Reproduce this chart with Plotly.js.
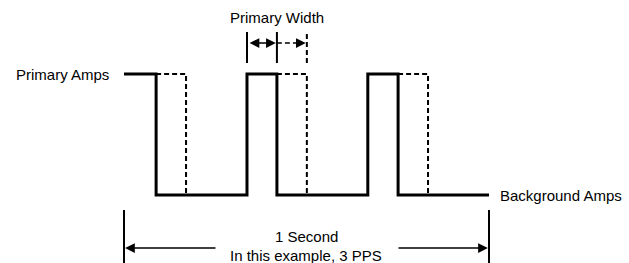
<!DOCTYPE html>
<html>
<head>
<meta charset="utf-8">
<script src="https://cdn.plot.ly/plotly-3.0.1.min.js"></script>
<style>html,body{margin:0;padding:0;background:#fff;}#chart{width:629px;height:263px;}</style>
</head>
<body>
<div id="chart"></div>
<script>
// Waveform timing (seconds within the 1-second window)
const pulseRise  = [0.000, 0.337, 0.668];
const pulseFall  = [0.088, 0.419, 0.751];
const widerFall  = [0.170, 0.501, 0.833];
const windowEnd  = 1.0;
// Amplitude levels
const ampLevels  = [1, 0];
const levelLabels = ['Primary Amps', 'Background Amps'];
const spanLabels = ['1 Second', 'In this example, 3 PPS'];
const widthLabel = 'Primary Width';

const HI = ampLevels[0], LO = ampLevels[1];

// solid waveform
const sx = [], sy = [];
for (let i = 0; i < pulseRise.length; i++) {
  sx.push(pulseRise[i]); sy.push(i === 0 ? HI : LO);
  if (i > 0) { sx.push(pulseRise[i]); sy.push(HI); }
  sx.push(pulseFall[i]); sy.push(HI);
  sx.push(pulseFall[i]); sy.push(LO);
}
sx.push(windowEnd); sy.push(LO);

// dashed wider pulses
const dx = [], dy = [];
for (let i = 0; i < pulseFall.length; i++) {
  dx.push(pulseFall[i], widerFall[i], widerFall[i], null);
  dy.push(HI, HI, LO, null);
}

const k = 1; // pulse used for the width marker
const wTop = 1.347, wBot = 1.091, wArrowY = 1.256, wTextY = 1.471;
const bTop = -0.124, bBot = -0.62, bArrowY = -0.438;

const traces = [
  {x: sx, y: sy, mode: 'lines', line: {color: '#000', width: 3}, hoverinfo: 'skip'},
  {x: dx, y: dy, mode: 'lines', line: {color: '#000', width: 2, dash: '5px,3px'}, hoverinfo: 'skip'},
  // width marker verticals
  {x: [pulseRise[k], pulseRise[k], null, pulseFall[k], pulseFall[k]], y: [wBot, wTop, null, wBot, wTop],
   mode: 'lines', line: {color: '#000', width: 2}, hoverinfo: 'skip'},
  {x: [widerFall[k], widerFall[k]], y: [wBot, wTop], mode: 'lines',
   line: {color: '#000', width: 2, dash: '5px,3px'}, hoverinfo: 'skip'},
  {x: [pulseFall[k], widerFall[k] - 0.02], y: [wArrowY, wArrowY], mode: 'lines',
   line: {color: '#000', width: 1.5, dash: '5px,3px'}, hoverinfo: 'skip'},
  // 1-second bracket verticals
  {x: [0, 0, null, windowEnd, windowEnd], y: [bTop, bBot, null, bTop, bBot],
   mode: 'lines', line: {color: '#000', width: 2}, hoverinfo: 'skip'}
];

const font = {family: 'Liberation Sans, Arial, sans-serif', size: 15, color: '#000'};
const arr = {showarrow: true, arrowcolor: '#000', arrowwidth: 1.5, arrowsize: 1.3, arrowhead: 2,
  axref: 'x', ayref: 'y', text: '', standoff: 0, startstandoff: 0};

const annotations = [
  Object.assign({}, arr, {x: pulseFall[k] - 0.003, y: wArrowY, ax: pulseRise[k] + 0.003, ay: wArrowY, arrowside: 'end+start'}),
  Object.assign({}, arr, {x: widerFall[k] - 0.003, y: wArrowY, ax: widerFall[k] - 0.03, ay: wArrowY}),
  Object.assign({}, arr, {x: 0.003, y: bArrowY, ax: 0.2548, ay: bArrowY}),
  Object.assign({}, arr, {x: windowEnd - 0.003, y: bArrowY, ax: 0.748, ay: bArrowY}),
  {x: pulseFall[k], y: wTextY, text: widthLabel, showarrow: false, font: font, xanchor: 'center', yanchor: 'middle'},
  {x: 0, y: HI, text: levelLabels[0], showarrow: false, font: font, xanchor: 'right', yanchor: 'middle', xshift: -13},
  {x: windowEnd, y: LO, text: levelLabels[1], showarrow: false, font: font, xanchor: 'left', yanchor: 'middle', xshift: 9},
  {x: 0.5, y: -0.347, text: spanLabels[0], showarrow: false, font: font, xanchor: 'center', yanchor: 'middle'},
  {x: 0.5, y: -0.496, text: spanLabels[1], showarrow: false, font: font, xanchor: 'center', yanchor: 'middle'}
];

const layout = {
  width: 629, height: 263,
  margin: {l: 0, r: 0, t: 0, b: 0},
  paper_bgcolor: '#fff', plot_bgcolor: '#fff',
  showlegend: false,
  xaxis: {range: [-0.3397, 1.3836], visible: false, fixedrange: true},
  yaxis: {range: [-0.562, 1.6116], visible: false, fixedrange: true},
  annotations: annotations
};

Plotly.newPlot('chart', traces, layout, {displayModeBar: false, staticPlot: true});
</script>
</body>
</html>
